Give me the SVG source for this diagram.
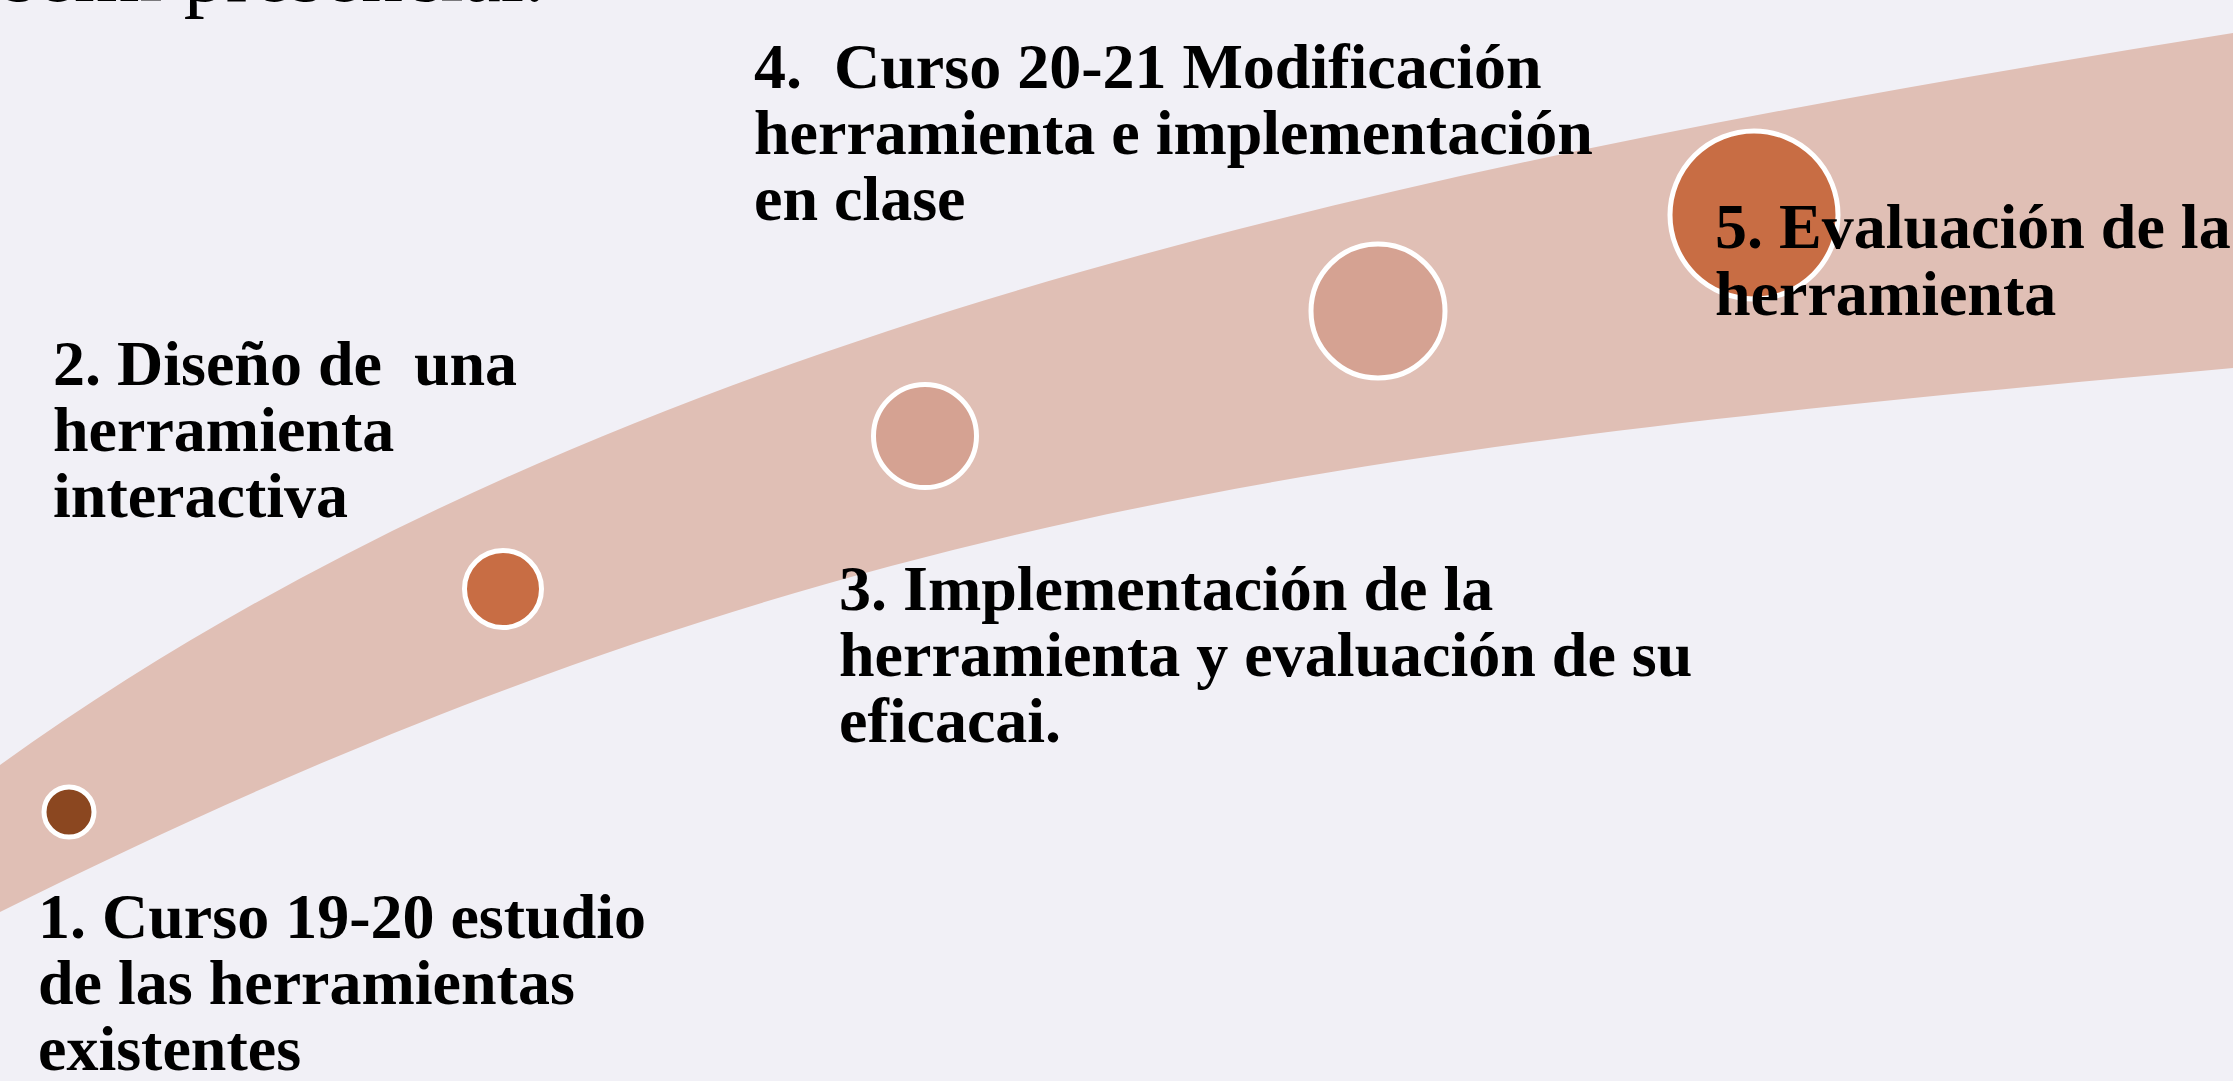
<svg xmlns="http://www.w3.org/2000/svg" width="2233" height="1081" viewBox="0 0 2233 1081">
<style>
.lbl{font-family:"Liberation Serif","Times New Roman",serif;font-weight:bold;font-size:64px;fill:#000}
.top{font-family:"Liberation Serif","Times New Roman",serif;font-size:84px;fill:#000}
.dot{stroke:#FFFFFF;stroke-width:5}
.dark{fill:#8B4720}
.mid{fill:#C86D44}
.light{fill:#D5A292}
</style>
<rect x="0" y="0" width="2233" height="1081" fill="#F1F0F6"/>
<text class="top" x="4" y="1">semi presencial.</text>
<g id="connectors">
<path id="band" fill="#E0BFB5" d="M 0 765 C 600 333 1400 166 2233 33 L 2233 368 C 1333 449 800 512 0 912 Z"/>
</g>
<g id="node1">
<circle class="dot dark" cx="69" cy="812" r="25"/>
<text class="lbl" x="38" y="938">1. Curso 19-20 estudio</text>
<text class="lbl" x="38" y="1004">de las herramientas</text>
<text class="lbl" x="38" y="1070">existentes</text>
</g>
<g id="node2">
<circle class="dot mid" cx="503" cy="589" r="38.5"/>
<text class="lbl" x="53" y="385" xml:space="preserve">2. Diseño de  una</text>
<text class="lbl" x="53" y="451">herramienta</text>
<text class="lbl" x="53" y="517">interactiva</text>
</g>
<g id="node3">
<circle class="dot light" cx="925" cy="436" r="51.5"/>
<text class="lbl" x="839" y="610">3. Implementación de la</text>
<text class="lbl" x="839" y="676">herramienta y evaluación de su</text>
<text class="lbl" x="839" y="742">eficacai.</text>
</g>
<g id="node4">
<circle class="dot light" cx="1378" cy="311" r="67"/>
<text class="lbl" x="754" y="88" xml:space="preserve">4.  Curso 20-21 Modificación</text>
<text class="lbl" x="754" y="154">herramienta e implementación</text>
<text class="lbl" x="754" y="220">en clase</text>
</g>
<g id="node5">
<circle class="dot mid" cx="1754" cy="215" r="84"/>
<text class="lbl" x="1715" y="248">5. Evaluación de la</text>
<text class="lbl" x="1715" y="315">herramienta</text>
</g>
</svg>
